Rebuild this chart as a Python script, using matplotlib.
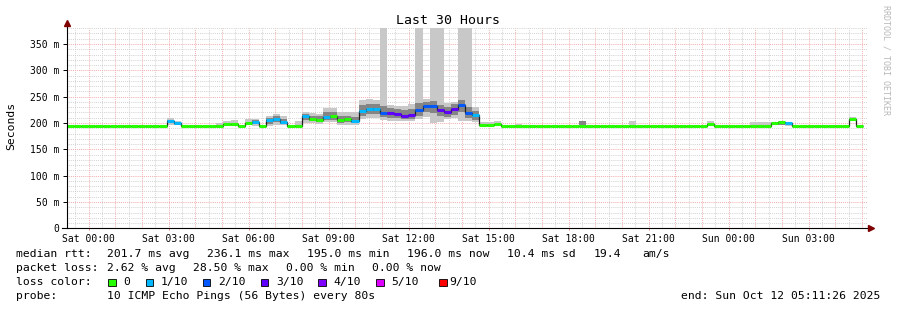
import numpy as np
import matplotlib
matplotlib.use('Agg')
import matplotlib.pyplot as plt
from matplotlib.patches import Rectangle
from matplotlib.ticker import FixedLocator, FuncFormatter, MultipleLocator

# ---------------- data ----------------
t_start = -0.80944          # hours relative to Sat 00:00 (Fri 23:11:26)
t_span = 30.0               # hours shown
bin_hours = 16 / 60         # consolidation step

median_ms = [
    195, 195, 195, 195, 195, 195, 195, 195, 195, 195,
    195, 195, 195, 195, 204, 200, 195, 195, 195, 195,
    195, 195, 198, 198, 195, 200, 202, 195, 205, 208.5,
    202, 195, 195, 214, 208, 206, 211, 214, 205, 207,
    204, 222, 226, 226, 219.5, 219, 218, 214, 216, 225,
    232, 233, 224, 221, 226, 234, 219.5, 214.5, 197, 197,
    199, 195, 195, 195, 195, 195, 195, 195, 195, 195,
    195, 195, 195, 195, 195, 195, 195, 195, 195, 195,
    195, 195, 195, 195, 195, 195, 195, 195, 195, 195,
    198, 195, 195, 195, 195, 195, 195, 195, 195, 200,
    201, 200, 195, 195, 195, 195, 195, 195, 195, 195,
    208, 195,
]
loss_tenths = [
    0, 0, 0, 0, 0, 0, 0, 0, 0, 0,
    0, 0, 0, 0, 1, 1, 0, 0, 0, 0,
    0, 0, 0, 0, 0, 0, 1, 0, 1, 1,
    1, 0, 0, 1, 0, 0, 1, 0, 0, 0,
    1, 1, 1, 1, 2, 3, 3, 3, 3, 2,
    2, 2, 3, 3, 3, 2, 2, 1, 0, 0,
    0, 0, 0, 0, 0, 0, 0, 0, 0, 0,
    0, 0, 0, 0, 0, 0, 0, 0, 0, 0,
    0, 0, 0, 0, 0, 0, 0, 0, 0, 0,
    0, 0, 0, 0, 0, 0, 0, 0, 0, 0,
    0, 1, 0, 0, 0, 0, 0, 0, 0, 0,
    0, 0,
]

# outer smoke (min..max of pings) for bins that show smoke
smoke_bins = [14, 15, 21, 22, 23, 25, 26, 28, 29, 30, 32, 33, 34, 35, 36, 37, 38, 39, 40,
              41, 42, 43, 44, 45, 46, 47, 48, 49, 50, 51, 52, 53, 54, 55, 56, 57, 58, 59, 60,
              63, 79, 90, 96, 97, 98, 99, 100, 101, 110]
smoke_lo = [197, 196, 195, 195, 195, 196, 195, 195, 197, 196, 195, 200, 200, 199, 202, 202, 197, 197, 197,
            208, 210, 210, 205, 204, 204, 203, 204, 207, 212, 200, 202, 207, 210, 203, 203, 201, 195, 195, 195,
            195, 195, 196, 195, 195, 195, 196, 196, 195, 205]
smoke_hi = [209, 204, 200, 204, 205, 207, 208, 213, 217, 214, 204, 221, 219, 218, 228, 228, 221, 220, 220,
            243, 245, 244, 381, 235, 233, 232, 236, 381, 245, 381, 381, 238, 240, 381, 381, 230, 202, 201, 204,
            198, 203, 203, 201, 201, 201, 202, 203, 201, 211]

# inner (darker) smoke
inner_bins = [14, 26, 28, 29, 30, 33, 34, 35, 36, 37, 38, 39, 40,
              41, 42, 43, 44, 45, 46, 47, 48, 49, 50, 51, 52, 53, 54, 55, 56, 57, 72, 100]
inner_lo = [200, 198, 199, 202, 198, 206, 203, 202, 205, 206, 200, 201, 200,
            214, 217, 217, 211, 210, 209, 207, 208, 214, 220, 219, 213, 212, 215, 220, 210, 206, 196, 196]
inner_hi = [206, 205, 209, 213, 208, 218, 214, 213, 220, 221, 213, 213, 212,
            234, 236, 236, 232, 228, 226, 224, 226, 238, 240, 242, 234, 231, 236, 243, 230, 223, 204, 201]

loss_labels = ['0', '1/10', '2/10', '3/10', '4/10', '5/10', '9/10']
loss_colors = ['#26ff00', '#00b8ff', '#0059ff', '#5e00ff', '#7e00ff', '#dd00ff', '#ff0000']

x_tick_hours = [0, 3, 6, 9, 12, 15, 18, 21, 24, 27]
x_tick_labels = ['Sat 00:00', 'Sat 03:00', 'Sat 06:00', 'Sat 09:00', 'Sat 12:00',
                 'Sat 15:00', 'Sat 18:00', 'Sat 21:00', 'Sun 00:00', 'Sun 03:00']

stats_rtt = ['201.7 ms avg', '236.1 ms max', '195.0 ms min', '196.0 ms now', '10.4 ms sd', '19.4', 'am/s']
stats_loss = ['2.62 % avg', '28.50 % max', '0.00 % min', '0.00 % now']
probe_text = '10 ICMP Echo Pings (56 Bytes) every 80s'
end_text = 'end: Sun Oct 12 05:11:26 2025'

# ---------------- figure ----------------
W, H = 897, 310
fig = plt.figure(figsize=(W / 100, H / 100), dpi=100)
fig.patch.set_facecolor('white')
MONO = 'DejaVu Sans Mono'

px_left, px_right, px_bottom, px_top = 67, 867, 228.3, 27.7
ax = fig.add_axes([px_left / W, 1 - px_bottom / H, (px_right - px_left) / W, (px_bottom - px_top) / H])
ax.set_facecolor('white')
ax.set_xlim(t_start, t_start + t_span)
ax.set_ylim(0, 0.381)

med = np.array(median_ms) / 1000.0
n = len(med)
edges = t_start + bin_hours * np.arange(n + 1)
left_e = edges[:-1]

# ticks
ax.xaxis.set_major_locator(FixedLocator(x_tick_hours))
ax.xaxis.set_major_formatter(FuncFormatter(lambda v, p: x_tick_labels[x_tick_hours.index(int(round(v)))] if int(round(v)) in x_tick_hours else ''))
ax.yaxis.set_major_locator(MultipleLocator(0.05))
ax.yaxis.set_minor_locator(MultipleLocator(0.01))
ax.yaxis.set_major_formatter(FuncFormatter(lambda v, p: '0' if abs(v) < 1e-9 else f'{v * 1000:.0f} m'))

# grid
dots = (0, (0.72, 1.2))
for h in np.arange(np.ceil(t_start * 2) / 2, t_start + t_span, 0.5):
    if abs(h - round(h)) < 1e-6:
        ax.axvline(h, color='#f29a9a', lw=0.72, ls=dots, zorder=0.5)
    else:
        ax.axvline(h, color='#c8c8c8', lw=0.72, ls=dots, zorder=0.4)
for v in np.arange(0.01, 0.381, 0.01):
    if round(v * 1000) % 50 == 0:
        ax.axhline(v, color='#f29a9a', lw=0.72, ls=dots, zorder=0.5)
    else:
        ax.axhline(v, color='#c8c8c8', lw=0.72, ls=dots, zorder=0.4)

# smoke
sb = np.array(smoke_bins)
ax.bar(left_e[sb], (np.array(smoke_hi) - np.array(smoke_lo)) / 1000.0, width=bin_hours,
       bottom=np.array(smoke_lo) / 1000.0, align='edge', color='#c8c8c8', lw=0, zorder=1)
ib = np.array(inner_bins)
ax.bar(left_e[ib], (np.array(inner_hi) - np.array(inner_lo)) / 1000.0, width=bin_hours,
       bottom=np.array(inner_lo) / 1000.0, align='edge', color='#858585', lw=0, zorder=1.1)

# thin median line
ax.stairs(med, edges, baseline=None, color='#202020', lw=0.9, zorder=2)
# loss-coloured median bars
cols = [loss_colors[min(l, 5) if l < 9 else 6] for l in loss_tenths]
ax.hlines(med, left_e, edges[1:], colors=cols, lw=2.2, capstyle='butt', zorder=3)

# axes styling
for s in ['top', 'right', 'left', 'bottom']:
    ax.spines[s].set_visible(False)
ax.plot([0, 0], [0, 1.02], transform=ax.transAxes, color='black', lw=0.8, clip_on=False, zorder=5)
ax.plot([-0.006, 1.002], [0, 0], transform=ax.transAxes, color='black', lw=0.8, clip_on=False, zorder=5)
ax.plot([0], [1.022], marker='^', ms=4, color='#800000', transform=ax.transAxes, clip_on=False, zorder=6)
ax.plot([1.005], [0], marker='>', ms=4, color='#800000', transform=ax.transAxes, clip_on=False, zorder=6)

ax.tick_params(axis='x', which='major', length=1.5, width=0.7, color='#f08080', pad=2.4,
               labelsize=7.05, direction='out')
ax.tick_params(axis='y', which='major', length=2.9, width=0.7, color='black', pad=2.4,
               labelsize=7.05, direction='out')
ax.tick_params(axis='y', which='minor', length=0)
for lab in ax.get_xticklabels() + ax.get_yticklabels():
    lab.set_family(MONO)

fig.text(11 / W, 1 - 126 / H, 'Seconds', rotation=90, ha='center', va='center', family=MONO, fontsize=8.2)
fig.text(447.6 / W, 1 - 20 / H, 'Last 30 Hours', ha='center', va='center', family=MONO, fontsize=9.5)
fig.text(886 / W, 1 - 60 / H, 'RRDTOOL / TOBI OETIKER', rotation=-90, ha='center', va='center',
         family=MONO, fontsize=6.0, color='#b8b8b8')

# legend
LS = 8.2
def ftxt(x, y, s, **kw):
    fig.text(x / W, 1 - y / H, s, ha=kw.pop('ha', 'left'), va='center', family=MONO, fontsize=LS, **kw)

ftxt(16, 254, 'median rtt:')
for x, s in zip([107.3, 207.3, 307.3, 406.7, 507.3, 593.3, 642.7], stats_rtt):
    ftxt(x, 254, s)
ftxt(16, 268.3, 'packet loss:')
for x, s in zip([107.3, 193.3, 286, 371.7], stats_loss):
    ftxt(x, 268.3, s)
ftxt(16, 282.3, 'loss color:')
box_x = [108.3, 145.7, 202.7, 260.7, 318.3, 376, 439.3]
lab_x = [123.3, 160.7, 218.3, 276, 333.3, 391.7, 449]
for bx, lx, c, l in zip(box_x, lab_x, loss_colors, loss_labels):
    fig.patches.append(Rectangle((bx / W, 1 - 286.0 / H), 7.5 / W, 7.5 / H, transform=fig.transFigure,
                                 facecolor=c, edgecolor='black', lw=0.6))
    ftxt(lx, 282.3, l)
ftxt(16, 296, 'probe:')
ftxt(107.3, 296, probe_text)
ftxt(880, 296, end_text, ha='right')

fig.savefig('out.png', dpi=100, facecolor='white')
